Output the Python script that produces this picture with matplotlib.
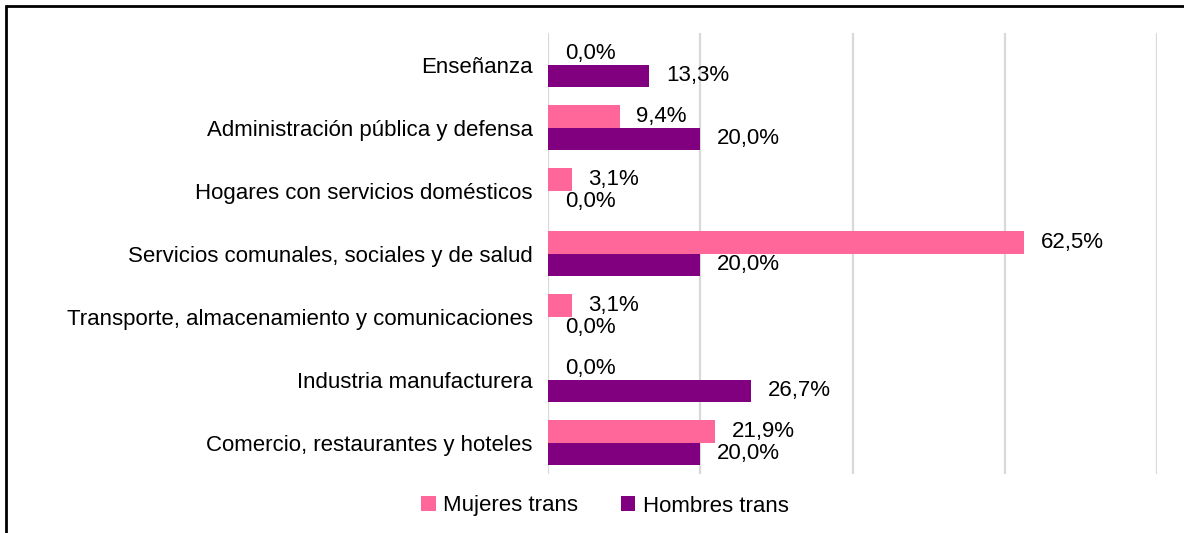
import matplotlib
matplotlib.use("Agg")
import matplotlib.pyplot as plt
from matplotlib.patches import Rectangle
import numpy as np

plt.rcParams["font.family"] = ["Liberation Sans", "DejaVu Sans"]

# data (top to bottom as shown)
categories = [
    "Enseñanza",
    "Administración pública y defensa",
    "Hogares con servicios domésticos",
    "Servicios comunales, sociales y de salud",
    "Transporte, almacenamiento y comunicaciones",
    "Industria manufacturera",
    "Comercio, restaurantes y hoteles",
]
mujeres = [0.0, 9.4, 3.1, 62.5, 3.1, 0.0, 21.9]
hombres = [13.3, 20.0, 0.0, 20.0, 0.0, 26.7, 20.0]
series_names = ["Mujeres trans", "Hombres trans"]
grid_ticks = [0, 20, 40, 60, 80]

pink = "#FF6699"
purple = "#800080"
FS = 16


def fmt(v):
    return f"{v:.1f}".replace(".", ",") + "%"


fig = plt.figure(figsize=(11.84, 5.33), dpi=100)
ax = fig.add_axes([548 / 1184, 1 - 474 / 533, (1157 - 548) / 1184, (474 - 33) / 533])

y = np.arange(len(categories))
h = 0.365
b1 = ax.barh(y - h / 2, mujeres, height=h, color=pink, label=series_names[0])
b2 = ax.barh(y + h / 2, hombres, height=h, color=purple, label=series_names[1])

ax.bar_label(b1, labels=[fmt(v) for v in mujeres], padding=12, fontsize=FS)
ax.bar_label(b2, labels=[fmt(v) for v in hombres], padding=12, fontsize=FS)

ax.set_xlim(0, 80)
ax.set_ylim(len(categories) - 0.5, -0.5)
ax.set_yticks(y)
ax.set_yticklabels(categories, fontsize=FS)
ax.set_xticks(grid_ticks)
ax.set_xticklabels([])
ax.tick_params(length=0, pad=11)
ax.grid(axis="x", color="#D9D9D9", linewidth=1.6)
ax.set_axisbelow(True)
for s in ax.spines.values():
    s.set_visible(False)

fig.legend(handles=[b1, b2], loc="center", bbox_to_anchor=(605 / 1184, 1 - 506 / 533),
           ncol=2, frameon=False, fontsize=FS, handlelength=0.65, handleheight=0.65,
           handletextpad=0.35, columnspacing=1.9)

# outer frame (partly cut off in the original)
fig.patches.append(Rectangle((6 / 1184, -0.1), 1.2, 1 - 6 / 533 + 0.1, transform=fig.transFigure,
                             fill=False, edgecolor="black", linewidth=2))

fig.savefig("out.png", dpi=100)
